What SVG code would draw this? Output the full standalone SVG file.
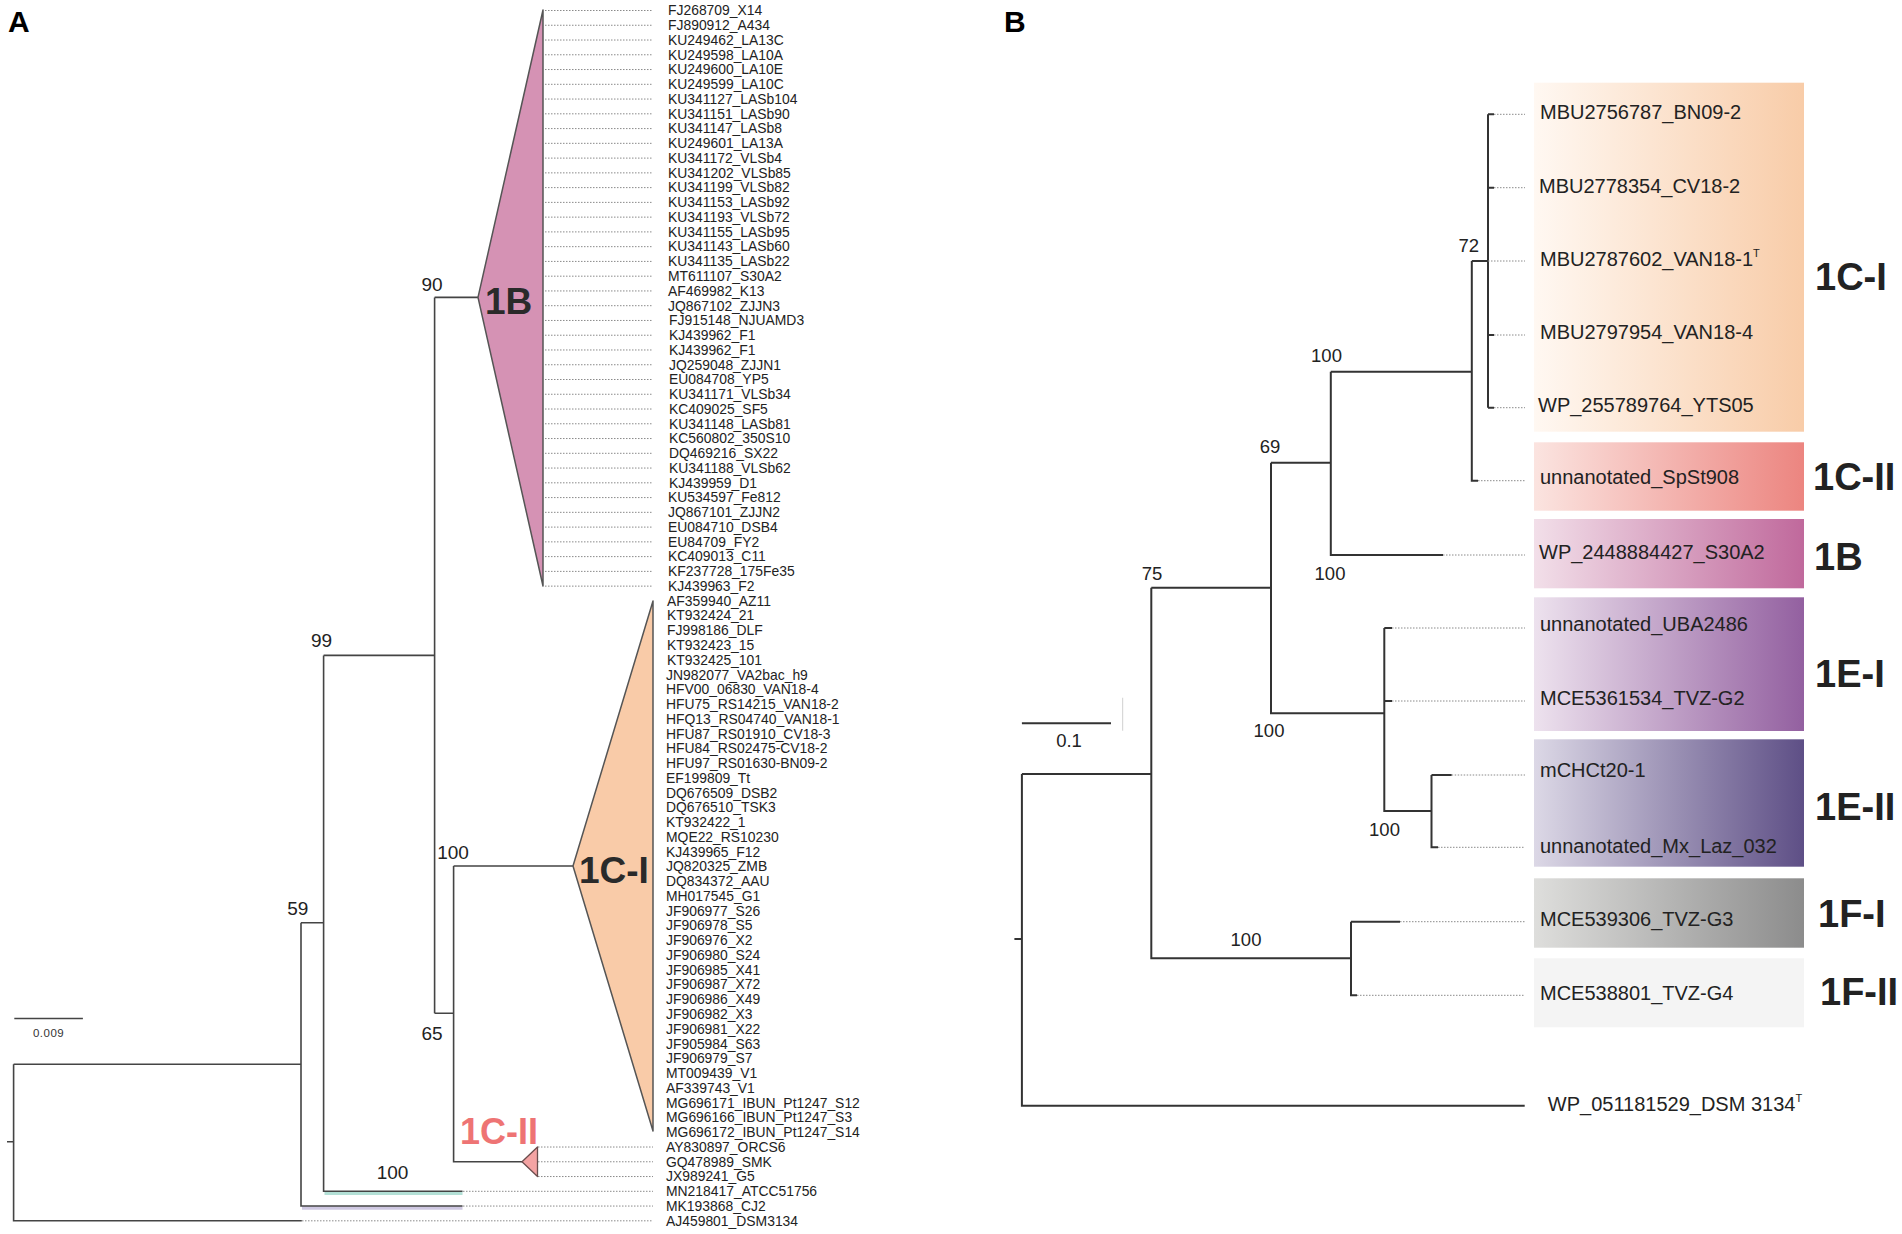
<svg xmlns="http://www.w3.org/2000/svg" width="1902" height="1234" viewBox="0 0 1902 1234">
<style>
.br{fill:none;stroke:#444;stroke-width:1.6}
.brb{fill:none;stroke:#333;stroke-width:2}
.dot{fill:none;stroke:#8a8a8a;stroke-width:1;stroke-dasharray:1.5 1.5}
.lf{font-family:"Liberation Sans",Arial,sans-serif;font-size:13.9px;fill:#222}
.bs{font-family:"Liberation Sans",Arial,sans-serif;font-size:19px;fill:#222;text-anchor:middle}
.bsb{font-family:"Liberation Sans",Arial,sans-serif;font-size:18.5px;fill:#222;text-anchor:middle}
.lfb{font-family:"Liberation Sans",Arial,sans-serif;font-size:20px;fill:#222}
.cl{font-family:"Liberation Sans",Arial,sans-serif;font-size:38px;font-weight:bold;fill:#222}
.pl{font-family:"Liberation Sans",Arial,sans-serif;font-size:30px;font-weight:bold;fill:#000}
</style>
<defs>
<linearGradient id="g1ci" x1="0" x2="1" y1="0" y2="0"><stop offset="0" stop-color="#fff8f2"/><stop offset="1" stop-color="#f8cca8"/></linearGradient>
<linearGradient id="g1cii" x1="0" x2="1" y1="0" y2="0"><stop offset="0" stop-color="#fbe4e0"/><stop offset="1" stop-color="#ec8580"/></linearGradient>
<linearGradient id="g1b" x1="0" x2="1" y1="0" y2="0"><stop offset="0" stop-color="#f2dfe9"/><stop offset="1" stop-color="#c0699c"/></linearGradient>
<linearGradient id="g1ei" x1="0" x2="1" y1="0" y2="0"><stop offset="0" stop-color="#ede2ee"/><stop offset="1" stop-color="#9360a0"/></linearGradient>
<linearGradient id="g1eii" x1="0" x2="1" y1="0" y2="0"><stop offset="0" stop-color="#dcd8e6"/><stop offset="1" stop-color="#5e4f86"/></linearGradient>
<linearGradient id="g1fi" x1="0" x2="1" y1="0" y2="0"><stop offset="0" stop-color="#dededc"/><stop offset="1" stop-color="#8c8c8c"/></linearGradient>
</defs>
<rect width="1902" height="1234" fill="#fff"/>

<text class="pl" x="8" y="31.5">A</text>
<text class="pl" x="1004" y="31.5">B</text>

<!-- PANEL A connectors -->
<g id="connectors-A">
<path d="M302 1208 L462.5 1208" stroke="#cfc8e2" stroke-width="3.5" fill="none"/>
<path d="M324.5 1193.2 L462.5 1193.2" stroke="#b3e0d6" stroke-width="3.5" fill="none"/>
<path class="br" d="M7 1141.8H13.6M13.6 1064.2V1220.82H301.8M13.6 1064.2H301M301 922.7V1206.06H462.5M301 922.7H323.6M323.6 655.4V1191.3H462.5M323.6 655.4H434.6M434.6 297.4V1013.3M434.6 297.4H478M434.6 1013.3H453.6M453.6 866V1161.78H522M453.6 866H573"/>
<path class="dot" d="M545 10.5H653M545 25.26H653M545 40.02H653M545 54.78H653M545 69.54H653M545 84.3H653M545 99.06H653M545 113.82H653M545 128.58H653M545 143.34H653M545 158.1H653M545 172.86H653M545 187.62H653M545 202.38H653M545 217.14H653M545 231.9H653M545 246.66H653M545 261.42H653M545 276.18H653M545 290.94H653M545 305.7H653M545 320.46H653M545 335.22H653M545 349.98H653M545 364.74H653M545 379.5H653M545 394.26H653M545 409.02H653M545 423.78H653M545 438.54H653M545 453.3H653M545 468.06H653M545 482.82H653M545 497.58H653M545 512.34H653M545 527.1H653M545 541.86H653M545 556.62H653M545 571.38H653M545 586.14H653M538 1147.02H653M538 1161.78H653M538 1176.54H653M463 1191.3H653M463 1206.06H653M302 1220.82H653"/>
<!-- scale bar -->
<path class="br" d="M14.3 1018.5H82.9"/>
<text x="48.6" y="1036.5" font-family="Liberation Sans, Arial, sans-serif" font-size="11.5" fill="#333" text-anchor="middle" letter-spacing="0.5">0.009</text>
</g>

<g id="bootstrap-A">
<text class="bs" x="432" y="291">90</text>
<text class="bs" x="321.5" y="646.5">99</text>
<text class="bs" x="297.7" y="914.5">59</text>
<text class="bs" x="453" y="858.8">100</text>
<text class="bs" x="432" y="1040">65</text>
<text class="bs" x="392.5" y="1179">100</text>
</g>

<g id="clade-1B-A">
<path d="M478 297.4L543 10V586Z" fill="#d592b4" stroke="#555" stroke-width="1.5" stroke-linejoin="round"/>
<text x="485" y="314" font-family="Liberation Sans, Arial, sans-serif" font-size="37" font-weight="bold" fill="#2a2a2a">1B</text>
</g>
<g id="clade-1CI-A">
<path d="M573 866L653 601V1131Z" fill="#f9cba8" stroke="#555" stroke-width="1.5" stroke-linejoin="round"/>
<text x="579" y="883" font-family="Liberation Sans, Arial, sans-serif" font-size="37" font-weight="bold" fill="#2a2a2a">1C-I</text>
</g>
<g id="clade-1CII-A">
<path d="M522 1161.78L537.5 1147V1176.5Z" fill="#f4a3a3" stroke="#6b4d4d" stroke-width="1.3" stroke-linejoin="round"/>
<text x="460" y="1143.5" font-family="Liberation Sans, Arial, sans-serif" font-size="36" font-weight="bold" fill="#ee7474">1C-II</text>
</g>

<g id="leaves-A">
<text class="lf" x="668" y="15.3">FJ268709_X14</text>
<text class="lf" x="668" y="30.06">FJ890912_A434</text>
<text class="lf" x="668" y="44.82">KU249462_LA13C</text>
<text class="lf" x="668" y="59.58">KU249598_LA10A</text>
<text class="lf" x="668" y="74.34">KU249600_LA10E</text>
<text class="lf" x="668" y="89.1">KU249599_LA10C</text>
<text class="lf" x="668" y="103.86">KU341127_LASb104</text>
<text class="lf" x="668" y="118.62">KU341151_LASb90</text>
<text class="lf" x="668" y="133.38">KU341147_LASb8</text>
<text class="lf" x="668" y="148.14">KU249601_LA13A</text>
<text class="lf" x="668" y="162.9">KU341172_VLSb4</text>
<text class="lf" x="668" y="177.66">KU341202_VLSb85</text>
<text class="lf" x="668" y="192.42">KU341199_VLSb82</text>
<text class="lf" x="668" y="207.18">KU341153_LASb92</text>
<text class="lf" x="668" y="221.94">KU341193_VLSb72</text>
<text class="lf" x="668" y="236.7">KU341155_LASb95</text>
<text class="lf" x="668" y="251.46">KU341143_LASb60</text>
<text class="lf" x="668" y="266.22">KU341135_LASb22</text>
<text class="lf" x="668" y="280.98">MT611107_S30A2</text>
<text class="lf" x="668" y="295.74">AF469982_K13</text>
<text class="lf" x="668" y="310.5">JQ867102_ZJJN3</text>
<text class="lf" x="669" y="325.26">FJ915148_NJUAMD3</text>
<text class="lf" x="669" y="340.02">KJ439962_F1</text>
<text class="lf" x="669" y="354.78">KJ439962_F1</text>
<text class="lf" x="669" y="369.54">JQ259048_ZJJN1</text>
<text class="lf" x="669" y="384.3">EU084708_YP5</text>
<text class="lf" x="669" y="399.06">KU341171_VLSb34</text>
<text class="lf" x="669" y="413.82">KC409025_SF5</text>
<text class="lf" x="669" y="428.58">KU341148_LASb81</text>
<text class="lf" x="669" y="443.34">KC560802_350S10</text>
<text class="lf" x="669" y="458.1">DQ469216_SX22</text>
<text class="lf" x="669" y="472.86">KU341188_VLSb62</text>
<text class="lf" x="669" y="487.62">KJ439959_D1</text>
<text class="lf" x="668" y="502.38">KU534597_Fe812</text>
<text class="lf" x="668" y="517.14">JQ867101_ZJJN2</text>
<text class="lf" x="668" y="531.9">EU084710_DSB4</text>
<text class="lf" x="668" y="546.66">EU84709_FY2</text>
<text class="lf" x="668" y="561.42">KC409013_C11</text>
<text class="lf" x="668" y="576.18">KF237728_175Fe35</text>
<text class="lf" x="668" y="590.94">KJ439963_F2</text>
<text class="lf" x="667" y="605.7">AF359940_AZ11</text>
<text class="lf" x="667" y="620.46">KT932424_21</text>
<text class="lf" x="667" y="635.22">FJ998186_DLF</text>
<text class="lf" x="667" y="649.98">KT932423_15</text>
<text class="lf" x="667" y="664.74">KT932425_101</text>
<text class="lf" x="666" y="679.5">JN982077_VA2bac_h9</text>
<text class="lf" x="666" y="694.26">HFV00_06830_VAN18-4</text>
<text class="lf" x="666" y="709.02">HFU75_RS14215_VAN18-2</text>
<text class="lf" x="666" y="723.78">HFQ13_RS04740_VAN18-1</text>
<text class="lf" x="666" y="738.54">HFU87_RS01910_CV18-3</text>
<text class="lf" x="666" y="753.3">HFU84_RS02475-CV18-2</text>
<text class="lf" x="666" y="768.06">HFU97_RS01630-BN09-2</text>
<text class="lf" x="666" y="782.82">EF199809_Tt</text>
<text class="lf" x="666" y="797.58">DQ676509_DSB2</text>
<text class="lf" x="666" y="812.34">DQ676510_TSK3</text>
<text class="lf" x="666" y="827.1">KT932422_1</text>
<text class="lf" x="666" y="841.86">MQE22_RS10230</text>
<text class="lf" x="666" y="856.62">KJ439965_F12</text>
<text class="lf" x="666" y="871.38">JQ820325_ZMB</text>
<text class="lf" x="666" y="886.14">DQ834372_AAU</text>
<text class="lf" x="666" y="900.9">MH017545_G1</text>
<text class="lf" x="666" y="915.66">JF906977_S26</text>
<text class="lf" x="666" y="930.42">JF906978_S5</text>
<text class="lf" x="666" y="945.18">JF906976_X2</text>
<text class="lf" x="666" y="959.94">JF906980_S24</text>
<text class="lf" x="666" y="974.7">JF906985_X41</text>
<text class="lf" x="666" y="989.46">JF906987_X72</text>
<text class="lf" x="666" y="1004.22">JF906986_X49</text>
<text class="lf" x="666" y="1018.98">JF906982_X3</text>
<text class="lf" x="666" y="1033.74">JF906981_X22</text>
<text class="lf" x="666" y="1048.5">JF905984_S63</text>
<text class="lf" x="666" y="1063.26">JF906979_S7</text>
<text class="lf" x="666" y="1078.02">MT009439_V1</text>
<text class="lf" x="666" y="1092.78">AF339743_V1</text>
<text class="lf" x="666" y="1107.54">MG696171_IBUN_Pt1247_S12</text>
<text class="lf" x="666" y="1122.3">MG696166_IBUN_Pt1247_S3</text>
<text class="lf" x="666" y="1137.06">MG696172_IBUN_Pt1247_S14</text>
<text class="lf" x="666" y="1151.82">AY830897_ORCS6</text>
<text class="lf" x="666" y="1166.58">GQ478989_SMK</text>
<text class="lf" x="666" y="1181.34">JX989241_G5</text>
<text class="lf" x="666" y="1196.1">MN218417_ATCC51756</text>
<text class="lf" x="666" y="1210.86">MK193868_CJ2</text>
<text class="lf" x="666" y="1225.62">AJ459801_DSM3134</text>
</g>

<!-- PANEL B -->
<g id="boxes-B">
<g id="box-1CI"><rect x="1534" y="82.7" width="270" height="349" fill="url(#g1ci)"/><text class="cl" x="1815" y="290">1C-I</text></g>
<g id="box-1CII"><rect x="1534" y="442.3" width="270" height="68.4" fill="url(#g1cii)"/><text class="cl" x="1813" y="490">1C-II</text></g>
<g id="box-1B"><rect x="1534" y="519" width="270" height="69.3" fill="url(#g1b)"/><text class="cl" x="1814" y="570">1B</text></g>
<g id="box-1EI"><rect x="1534" y="597.3" width="270" height="133.7" fill="url(#g1ei)"/><text class="cl" x="1815" y="687">1E-I</text></g>
<g id="box-1EII"><rect x="1534" y="739.3" width="270" height="127.4" fill="url(#g1eii)"/><text class="cl" x="1815" y="820">1E-II</text></g>
<g id="box-1FI"><rect x="1534" y="878.3" width="270" height="69.4" fill="url(#g1fi)"/><text class="cl" x="1818" y="927">1F-I</text></g>
<g id="box-1FII"><rect x="1534" y="958.3" width="270" height="69" fill="#f4f4f4"/><text class="cl" x="1820" y="1005">1F-II</text></g>
</g>

<g id="connectors-B">
<path class="brb" d="M1014.4 939H1021.9M1021.9 774V1105.7H1524.7M1021.9 774H1151.3M1151.3 587.7V958.3H1351M1151.3 587.7H1271M1271 462.7V713.3H1384.3M1271 462.7H1330.8M1330.8 371.7V555H1443M1330.8 371.7H1471.8M1471.8 261V480.7H1478M1471.8 261H1488M1488 114.3V407.7M1488 114.3H1494M1488 187.7H1494M1488 335H1494M1488 407.7H1494M1384.3 628V811H1431.5M1384.3 628H1392M1384.3 701H1392M1431.5 775V847.3H1438M1431.5 775H1451.7M1351 921.7V995.3H1357M1351 921.7H1400"/>
<path class="dot" d="M1494 114.3H1525M1494 187.7H1525M1488 261H1525M1494 335H1525M1494 407.7H1525M1478 480.7H1525M1443 555H1525M1392 628H1525M1392 701H1525M1451.7 775H1525M1438 847.3H1525M1400 921.7H1525M1357 995.3H1525"/>
<path class="brb" d="M1021.9 723.3H1111"/>
<path d="M1122.6 697.7V730.7" stroke="#d8d8d8" stroke-width="1.2"/>
<text x="1069" y="746.5" font-family="Liberation Sans, Arial, sans-serif" font-size="18.5" fill="#222" text-anchor="middle">0.1</text>
</g>

<g id="bootstrap-B">
<text class="bsb" x="1468.7" y="251.7">72</text>
<text class="bsb" x="1326.5" y="361.7">100</text>
<text class="bsb" x="1270" y="453.3">69</text>
<text class="bsb" x="1330" y="580">100</text>
<text class="bsb" x="1152" y="580">75</text>
<text class="bsb" x="1269" y="737.3">100</text>
<text class="bsb" x="1384.5" y="835.7">100</text>
<text class="bsb" x="1246" y="946">100</text>
</g>

<g id="leaves-B">
<text class="lfb" x="1540" y="118.7">MBU2756787_BN09-2</text>
<text class="lfb" x="1539" y="193">MBU2778354_CV18-2</text>
<text class="lfb" x="1540" y="266.3">MBU2787602_VAN18-1<tspan font-size="11" dy="-9">T</tspan></text>
<text class="lfb" x="1540" y="338.7">MBU2797954_VAN18-4</text>
<text class="lfb" x="1538" y="412">WP_255789764_YTS05</text>
<text class="lfb" x="1540" y="483.7">unnanotated_SpSt908</text>
<text class="lfb" x="1539" y="558.7">WP_2448884427_S30A2</text>
<text class="lfb" x="1540" y="631">unnanotated_UBA2486</text>
<text class="lfb" x="1540" y="705.3">MCE5361534_TVZ-G2</text>
<text class="lfb" x="1540" y="777">mCHCt20-1</text>
<text class="lfb" x="1540" y="853">unnanotated_Mx_Laz_032</text>
<text class="lfb" x="1540" y="926">MCE539306_TVZ-G3</text>
<text class="lfb" x="1540" y="999.7">MCE538801_TVZ-G4</text>
<text class="lfb" x="1547.8" y="1111.3">WP_051181529_DSM 3134<tspan font-size="11" dy="-9">T</tspan></text>
</g>
</svg>
